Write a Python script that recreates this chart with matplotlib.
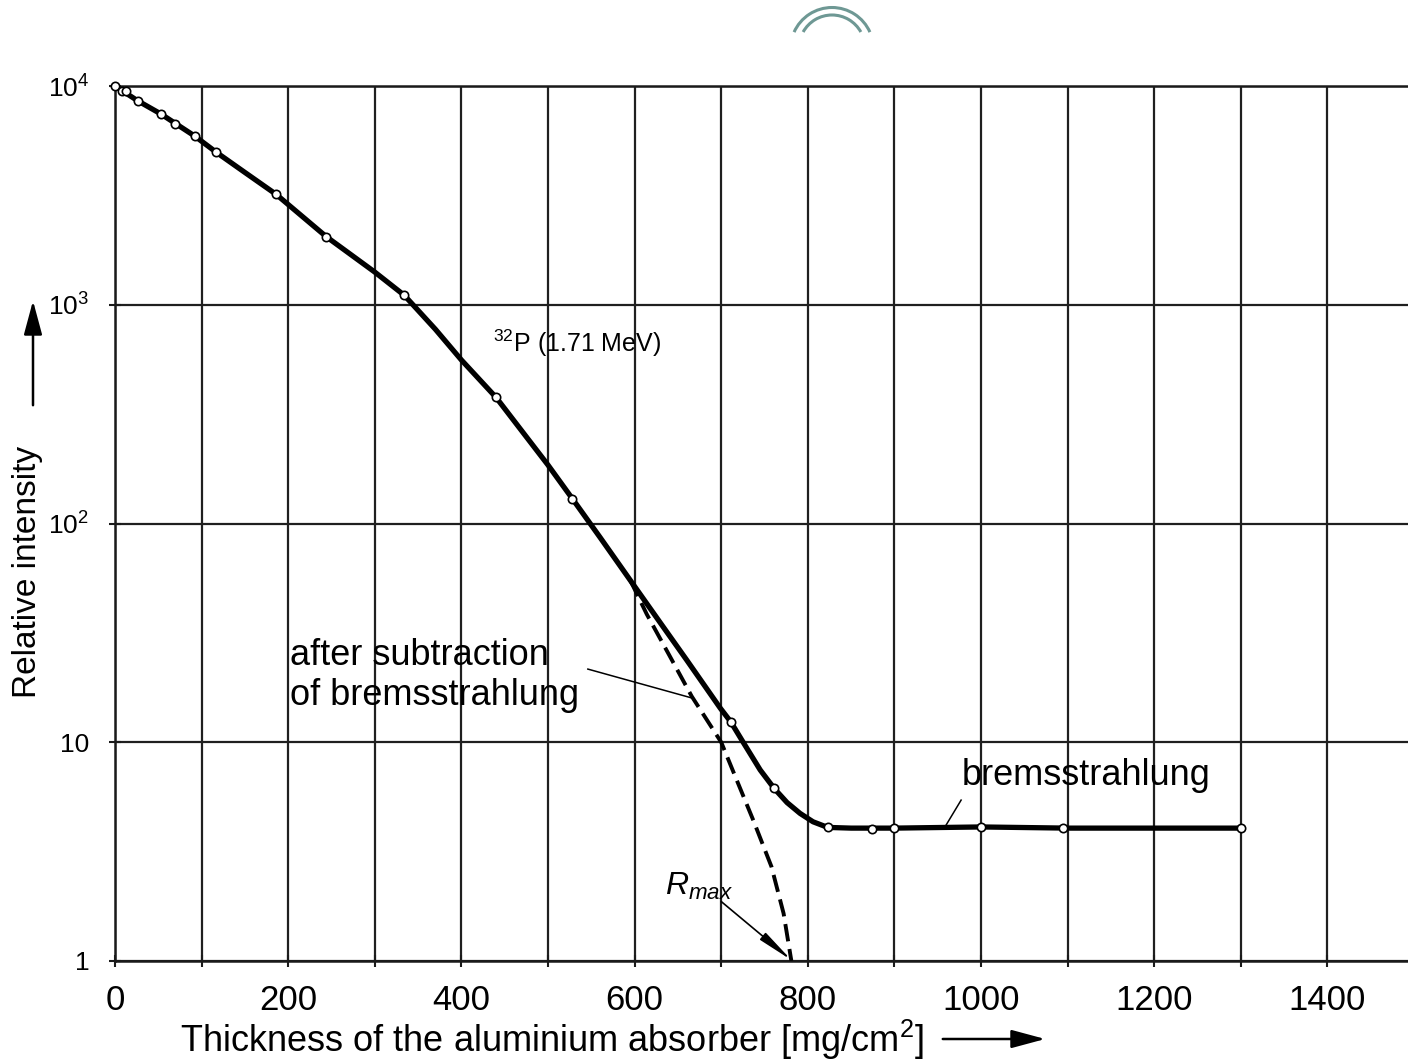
import matplotlib
matplotlib.use("Agg")
import matplotlib.pyplot as plt
from matplotlib import font_manager
from matplotlib.patches import Arc, FancyArrowPatch

# Fonts
_names = {f.name for f in font_manager.fontManager.ttflist}
NARROW = "Liberation Sans Narrow" if "Liberation Sans Narrow" in _names else "Liberation Sans"

plt.rcParams.update({
    "font.family": ["Liberation Sans", "DejaVu Sans"],
    "mathtext.fontset": "custom",
    "mathtext.rm": "Liberation Sans",
    "mathtext.it": "Liberation Sans:italic",
})

# Data

# x ticks / grid
X_GRID = list(range(0, 1500, 100))
X_TICK_LABELS = ["0", "", "200", "", "400", "", "600", "", "800", "", "1000", "", "1200", "", "1400"]
Y_TICKS = [1, 10, 100, 1000, 10000]
Y_TICK_LABELS = ["1", "10", r"$\mathregular{10^2}$", r"$\mathregular{10^3}$", r"$\mathregular{10^4}$"]

# measured points (open circles)
meas_x = [0, 8, 13, 26, 53, 69, 92, 117, 186, 244, 334, 440, 528,
          711, 761, 823, 874, 899, 1000, 1095, 1300]
meas_y = [10000, 9520, 9450, 8570, 7450, 6680, 5905, 4976, 3198, 2047, 1105, 377, 130,
          12.4, 6.16, 4.08, 4.02, 4.04, 4.1, 4.04, 4.05]

# total curve (solid)
total_x = [0, 26, 53, 92, 117, 150, 186, 244, 300, 334, 370, 400, 440, 500, 528,
           560, 595, 630, 660, 699, 711, 724, 745, 761, 776, 791, 806, 823, 850, 900,
           1000, 1100, 1200, 1300]
total_y = [10000, 8570, 7450, 5905, 4976, 4025, 3198, 2047, 1410, 1105, 772, 559,
           377, 185, 130, 86.5, 55, 35, 23.8, 14.3, 12.4, 10.2, 7.47, 6.16, 5.3, 4.73,
           4.33, 4.08, 4.05, 4.05, 4.1, 4.05, 4.05, 4.05]

# beta part after subtraction of bremsstrahlung (dashed)
beta_x = [595, 614, 640, 666, 700, 718, 737, 758, 772, 781]
beta_y = [55, 38.5, 25, 16.2, 10, 6.7, 4.4, 2.7, 1.65, 1.0]

# Figure

W, H = 1408, 1061
fig = plt.figure(figsize=(W / 100, H / 100), dpi=100)
ax = fig.add_axes([115 / W, 1 - 961 / H, 1 - 115 / W, (961 - 86) / H])

ax.set_yscale("log")
ax.set_xlim(0, 1493)
ax.set_ylim(1, 10000)

ax.set_xticks(X_GRID, labels=X_TICK_LABELS)
ax.set_yticks(Y_TICKS, labels=Y_TICK_LABELS)
ax.yaxis.set_minor_locator(matplotlib.ticker.NullLocator())

for lbl in ax.get_xticklabels():
    lbl.set_fontfamily(NARROW)
    lbl.set_fontsize(25)
for lbl in ax.get_yticklabels():
    lbl.set_fontfamily(NARROW)
    lbl.set_fontsize(19)

ax.tick_params(axis="both", direction="inout", length=9, width=1.5, color="#1a1a1a")
ax.tick_params(axis="x", pad=12)
ax.tick_params(axis="y", pad=14)

ax.grid(True, which="major", color="#1f1f1f", lw=1.6)
ax.set_axisbelow(True)
for side in ("left", "bottom", "top"):
    ax.spines[side].set_linewidth(1.8)
    ax.spines[side].set_color("#1a1a1a")
ax.spines["right"].set_visible(False)

ax.plot(total_x, total_y, color="black", lw=3.8, solid_capstyle="round",
        solid_joinstyle="round", zorder=3)
ax.plot(beta_x, beta_y, color="black", lw=2.8, dashes=(4.5, 2), zorder=3)
ax.plot(meas_x, meas_y, "o", ms=6, mfc="white", mec="black", mew=1.2, zorder=4,
        clip_on=False)

# Annotations
ax.text(436, 608, r"$\mathregular{^{32}P\ (1.71\ MeV)}$", fontsize=18,
        ha="left", va="baseline")

ax.text(202, 22.5, "after subtraction", fontsize=26, ha="left", va="baseline")
ax.text(202, 14.8, "of bremsstrahlung", fontsize=26, ha="left", va="baseline")
ax.plot([546, 667], [21.6, 15.9], color="black", lw=1.1, zorder=3)

ax.text(978, 6.38, "bremsstrahlung", fontsize=26, ha="left", va="baseline")
ax.plot([977, 958], [5.44, 4.08], color="black", lw=1.1, zorder=3)

ax.text(635, 2.0, r"$R_{max}$", fontsize=23, ha="left", va="baseline")
ax.annotate("", xy=(781, 1.01), xytext=(700, 1.87),
            arrowprops=dict(arrowstyle="-|>,head_length=1.2,head_width=0.15",
                            mutation_scale=18, lw=1.2, color="black",
                            shrinkA=0, shrinkB=0), zorder=3)

# Axis labels with arrows
fig.text(28 / W, 1 - 572 / H, "Relative intensity", rotation=90, fontsize=24,
         ha="center", va="center")
fig.patches.append(FancyArrowPatch((33 / W, 1 - 408 / H), (33 / W, 1 - 298 / H),
                                   transform=fig.transFigure,
                                   arrowstyle="-|>,head_length=1.3,head_width=0.35",
                                   mutation_scale=16, lw=1.8, color="black"))

fig.text(180 / W, 1 - 1052 / H,
         r"Thickness of the aluminium absorber [mg/cm$^{\mathregular{2}}$]",
         fontsize=26, ha="left", va="baseline")
fig.patches.append(FancyArrowPatch((940 / W, 1 - 1039 / H), (1048 / W, 1 - 1039 / H),
                                   transform=fig.transFigure,
                                   arrowstyle="-|>,head_length=1.3,head_width=0.35",
                                   mutation_scale=16, lw=1.8, color="black"))

# teal arcs at the top edge (logo fragment in the scan)
deco = fig.add_axes([0, 0, 1, 1], zorder=-1)
deco.set_xlim(0, W)
deco.set_ylim(0, H)
deco.axis("off")
deco.add_patch(Arc((832, H - 49), 83, 83, theta1=24, theta2=156, color="#6e9894", lw=2.2))
deco.add_patch(Arc((832, H - 48), 66, 66, theta1=29, theta2=151, color="#6e9894", lw=2.2))

fig.savefig("out.png", dpi=100)
